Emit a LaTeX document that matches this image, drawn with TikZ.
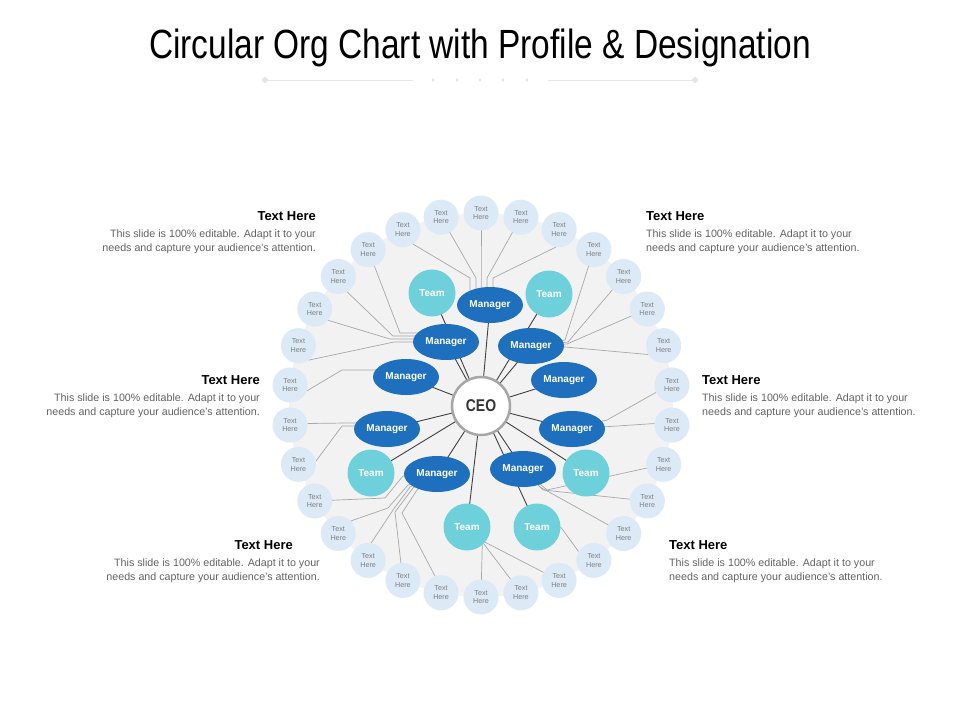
\documentclass[tikz,border=0pt]{standalone}
\usepackage{fontspec}
\setmainfont{Liberation Sans}
\newfontfamily\narrowfont[FakeStretch=0.82]{Liberation Sans}
\usetikzlibrary{shapes.geometric,calc}
\definecolor{mgrblue}{HTML}{1F6FBF}
\definecolor{teamcyan}{HTML}{6DD0DA}
\definecolor{outerblue}{HTML}{DCE9F7}
\definecolor{outertext}{HTML}{7F7F7F}
\definecolor{bggray}{HTML}{F2F2F2}
\definecolor{ceoline}{HTML}{404040}
\definecolor{ceoborder}{HTML}{A6A6A6}
\definecolor{ceotext}{HTML}{333333}
\definecolor{thinline}{HTML}{A8A8A8}
\definecolor{bodygray}{HTML}{636363}
\definecolor{decogray}{HTML}{E6E6E6}
\pgfdeclarelayer{bg}
\pgfsetlayers{bg,main}
\begin{document}
\begin{tikzpicture}[x=1pt,y=-1pt,
  outer/.style={circle, fill=outerblue, minimum size=35pt, inner sep=0pt, align=center, text=outertext, font=\fontsize{7.2}{8.7}\selectfont},
  mgr/.style={ellipse, fill=mgrblue, minimum width=66pt, minimum height=36pt, inner sep=0pt, text=white, font=\bfseries\fontsize{10}{12}\selectfont},
  team/.style={circle, fill=teamcyan, minimum size=47pt, inner sep=0pt, text=white, font=\bfseries\fontsize{10}{12}\selectfont},
  ceo/.style={circle, fill=white, draw=ceoborder, line width=2.5pt, minimum size=58pt, inner sep=0pt, text=ceotext, font=\narrowfont\bfseries\fontsize{17}{20}\selectfont},
  ceolink/.style={draw=ceoline, line width=0.9pt},
  sublink/.style={draw=thinline, line width=0.7pt},
  head/.style={font=\bfseries\fontsize{13}{15}\selectfont, text=black, inner sep=0pt},
  body/.style={font=\fontsize{10.7}{14}\selectfont, text=bodygray, inner sep=0pt},
  deco/.style={draw=decogray, line width=1pt}
]
\useasboundingbox (0,0) rectangle (960,720);

% title
\node[font=\narrowfont\fontsize{40.8}{48}\selectfont, inner sep=0pt] (title) at (480,48) {Circular Org Chart with Profile \& Designation};
\draw[deco] (265,80) -- (413,80);
\draw[deco] (548,80) -- (695,80);
\fill[decogray] (265,80) circle[radius=3pt] (695,80) circle[radius=3pt];
\foreach \x in {433,457,480,503,527} \fill[decogray] (\x,80) circle[radius=1.6pt];

% centre
\coordinate (ctr) at (481,405);
\node[ceo] (ceo) at (481,406) {CEO};

% managers
\node[mgr] (m1) at (490,305) {Manager};
\node[mgr] (m2) at (446,342) {Manager};
\node[mgr] (m3) at (531,346) {Manager};
\node[mgr] (m4) at (406,377) {Manager};
\node[mgr] (m5) at (564,380) {Manager};
\node[mgr] (m6) at (387,429) {Manager};
\node[mgr] (m7) at (572,429) {Manager};
\node[mgr] (m8) at (437,474) {Manager};
\node[mgr] (m9) at (523,469) {Manager};

% teams
\node[team] (t1) at (432,293) {Team};
\node[team] (t2) at (549,294) {Team};
\node[team] (t3) at (371,473) {Team};
\node[team] (t4) at (586,473) {Team};
\node[team] (t5) at (467,527) {Team};
\node[team] (t6) at (537,527) {Team};

% outer ring
\foreach \a in {6,18,...,354}
  \node[outer] (o\a) at ($(ctr)+(\a:192pt)$) {Text\\Here};

% side texts
\node[head, anchor=east] (h1) at (316,216) {Text Here};
\node[body, anchor=east, align=right] (b1) at (316,242) {This slide is 100\% editable. Adapt it to your\\needs and capture your audience's attention.};
\node[head, anchor=west] (h2) at (646,216) {Text Here};
\node[body, anchor=west, align=left] (b2) at (646,242) {This slide is 100\% editable. Adapt it to your\\needs and capture your audience's attention.};
\node[head, anchor=east] (h3) at (260,380) {Text Here};
\node[body, anchor=east, align=right] (b3) at (260,406) {This slide is 100\% editable. Adapt it to your\\needs and capture your audience's attention.};
\node[head, anchor=west] (h4) at (702,380) {Text Here};
\node[body, anchor=west, align=left] (b4) at (702,406) {This slide is 100\% editable. Adapt it to your\\needs and capture your audience's attention.};
\node[head, anchor=east] (h5) at (293,545) {Text Here};
\node[body, anchor=east, align=right] (b5) at (320,571) {This slide is 100\% editable. Adapt it to your\\needs and capture your audience's attention.};
\node[head, anchor=west] (h6) at (669,545) {Text Here};
\node[body, anchor=west, align=left] (b6) at (669,571) {This slide is 100\% editable. Adapt it to your\\needs and capture your audience's attention.};

\begin{pgfonlayer}{bg}
\fill[white] (0,0) rectangle (960,720);
\fill[bggray] (ctr) circle[radius=192pt];
% CEO links
\foreach \n in {m1,m2,m3,m4,m5,m6,m7,m8,m9,t1,t2,t3,t4,t5,t6}
  \draw[ceolink] (ceo.center) -- (\n.center);
% M1
\draw[sublink] (o114.-55) -- (470,278) |- (m1.center);
\draw[sublink] (o102.center) -- (476,278) |- (m1.center);
\draw[sublink] (o90.center) -- (481,278) |- (m1.center);
\draw[sublink] (o78.center) -- (487,278) |- (m1.center);
\draw[sublink] (o66.-100) -- (493,278) |- (m1.center);
% M2
\draw[sublink] (o126.center) -- (400,333) -| (m2.center);
\draw[sublink] (o138.-60) -- (393,336) -| (m2.center);
\draw[sublink] (o150.-40) -- (390,339) -| (m2.center);
\draw[sublink] (o162.-55) -- (394,342) -| (m2.center);
% M3
\draw[sublink] (o54.center) -- (565,340) -- (m3.center);
\draw[sublink] (o42.center) -- (568,342) -- (m3.center);
\draw[sublink] (o30.center) -- (567,344) -- (m3.center);
\draw[sublink] (o18.210) -- (565,347) -- (m3.center);
% M4
\draw[sublink] (o174.-20) -- (342,370) -| (m4.center);
% M6
\draw[sublink] (o186.5) -- (346,423) -| (m6.center);
\draw[sublink] (o198.10) -- (342,426) -| (m6.center);
% M7
\draw[sublink] (o6.205) -- (607,420) -- (m7.center);
\draw[sublink] (o354.175) -- (m7.center);
% M8
\draw[sublink] (o210.center) -- (385,498) -- (403,476) -- (m8.center);
\draw[sublink] (o222.45) -- (388,508) -- (408,485) -- (m8.center);
\draw[sublink] (o234.80) -- (393,510) -- (410,487) -- (m8.center);
\draw[sublink] (o246.center) -- (395,512) -- (413,488) -- (m8.center);
\draw[sublink] (o258.110) -- (402,513) -- (417,490) -- (m8.center);
% M9
\draw[sublink] (m9.center) -- (540,487) -- (o318.center);
\draw[sublink] (m9.center) -- (543,490) -- (o330.center);
\draw[sublink] (m9.center) -- (547,490) -- (o342.center);
% T5
\draw[sublink] (t5.-50) -- (o270.center);
\draw[sublink] (t5.-45) -- (o282.center);
\draw[sublink] (t5.-40) -- (o294.center);
% T6
\draw[sublink] (t6.east) -- (o306.150);
\end{pgfonlayer}
\end{tikzpicture}
\end{document}
